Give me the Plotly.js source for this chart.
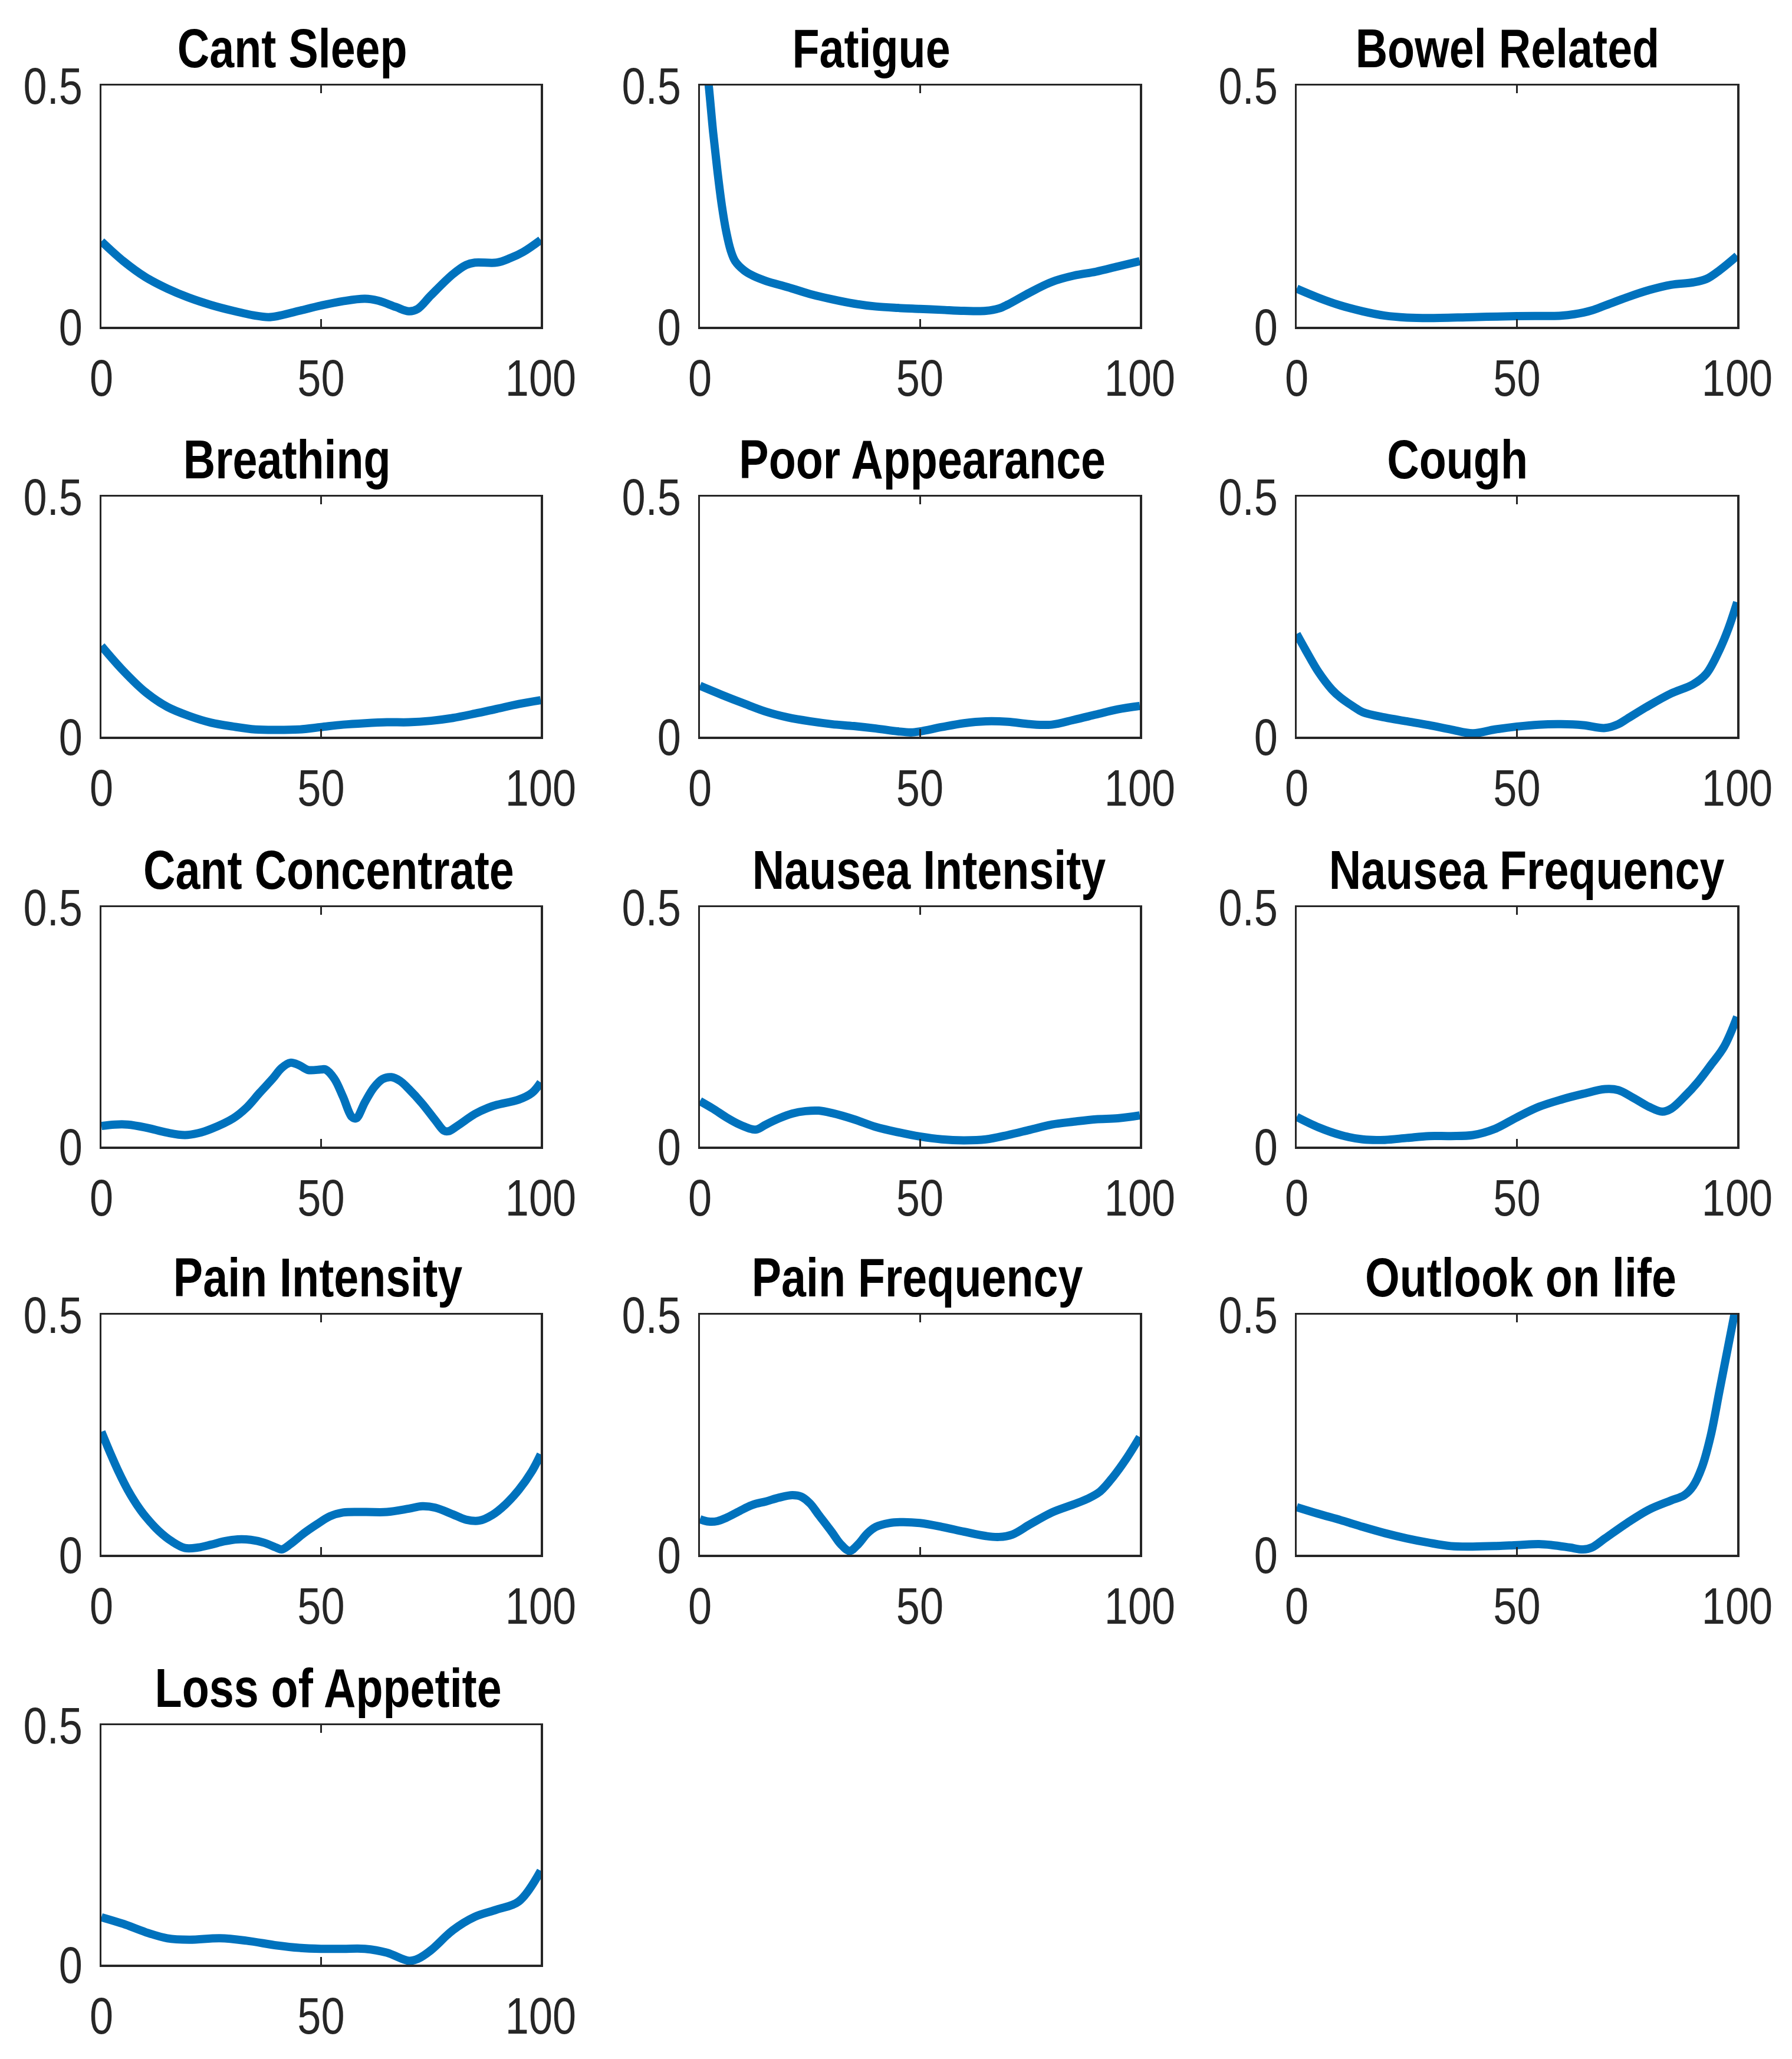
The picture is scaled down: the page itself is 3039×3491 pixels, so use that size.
<!DOCTYPE html>
<html>
<head>
<meta charset="utf-8">
<script src="https://cdn.plot.ly/plotly-3.0.1.min.js"></script>
<style>
html, body { margin: 0; padding: 0; background: #ffffff; }
#chart { width: 3039px; height: 3491px; }
</style>
</head>
<body>
<div id="chart"></div>
<script>
// ---- Data ----
const titles = ["Cant Sleep", "Fatigue", "Bowel Related", "Breathing", "Poor Appearance", "Cough",
  "Cant Concentrate", "Nausea Intensity", "Nausea Frequency", "Pain Intensity", "Pain Frequency",
  "Outlook on life", "Loss of Appetite"];

const xTicks = [0, 50, 100];
const xTickLabels = ["0", "50", "100"];
const yTicks = [0, 0.5];
const yTickLabels = ["0", "0.5"];

const cantSleepX = [0, 5, 10, 15, 20, 25, 30, 35, 38, 40, 45, 50, 55, 60, 63, 67, 70, 72, 75, 80, 83, 85, 90, 93, 96, 100];
const cantSleepY = [0.177, 0.136, 0.103, 0.079, 0.060, 0.045, 0.033, 0.023, 0.020, 0.022, 0.033, 0.044, 0.053, 0.058, 0.054, 0.041, 0.032, 0.037, 0.065, 0.109, 0.128, 0.133, 0.133, 0.142, 0.155, 0.180];

const fatigueX = [0, 1, 2, 3, 4, 5, 6, 7, 8, 10, 12, 15, 20, 25, 30, 35, 40, 45, 50, 55, 60, 65, 68, 70, 75, 80, 85, 90, 95, 100];
const fatigueY = [0.68, 0.58, 0.50, 0.403, 0.321, 0.250, 0.196, 0.158, 0.136, 0.117, 0.106, 0.095, 0.082, 0.068, 0.057, 0.048, 0.042, 0.039, 0.037, 0.035, 0.033, 0.033, 0.038, 0.046, 0.071, 0.093, 0.106, 0.114, 0.125, 0.136];

const bowelX = [0, 5, 10, 15, 20, 25, 30, 40, 50, 60, 63, 67, 70, 75, 80, 85, 90, 93, 96, 100];
const bowelY = [0.079, 0.060, 0.044, 0.032, 0.023, 0.019, 0.018, 0.020, 0.022, 0.023, 0.026, 0.034, 0.044, 0.061, 0.076, 0.087, 0.092, 0.099, 0.117, 0.147];

const breathingX = [0, 5, 10, 15, 20, 25, 30, 35, 40, 45, 50, 55, 60, 65, 70, 75, 80, 85, 90, 95, 100];
const breathingY = [0.189, 0.137, 0.093, 0.062, 0.043, 0.029, 0.021, 0.015, 0.014, 0.015, 0.020, 0.025, 0.028, 0.030, 0.030, 0.033, 0.039, 0.048, 0.058, 0.068, 0.076];

const appearanceX = [0, 5, 10, 15, 20, 25, 30, 35, 40, 45, 48, 50, 55, 60, 65, 70, 75, 80, 85, 90, 95, 100];
const appearanceY = [0.106, 0.087, 0.069, 0.052, 0.040, 0.032, 0.026, 0.022, 0.017, 0.011, 0.009, 0.011, 0.020, 0.028, 0.032, 0.031, 0.026, 0.025, 0.035, 0.046, 0.057, 0.064];

const coughX = [0, 2, 5, 8, 10, 13, 15, 20, 25, 30, 35, 40, 45, 50, 55, 60, 65, 70, 73, 75, 80, 85, 90, 93, 96, 98, 100];
const coughY = [0.214, 0.181, 0.134, 0.098, 0.081, 0.062, 0.051, 0.040, 0.032, 0.024, 0.015, 0.007, 0.015, 0.021, 0.025, 0.026, 0.024, 0.018, 0.026, 0.037, 0.065, 0.090, 0.109, 0.131, 0.181, 0.225, 0.280];

const concentrateX = [0, 3, 6, 10, 15, 19, 22, 25, 30, 33, 36, 39, 41, 43, 45, 47, 50, 51, 53, 55, 57, 58, 60, 62, 64, 66, 68, 70, 73, 76, 78, 79, 81, 85, 88, 90, 95, 98, 100];
const concentrateY = [0.043, 0.046, 0.046, 0.040, 0.029, 0.024, 0.028, 0.037, 0.059, 0.081, 0.112, 0.142, 0.164, 0.175, 0.170, 0.160, 0.161, 0.161, 0.142, 0.104, 0.062, 0.059, 0.093, 0.123, 0.141, 0.145, 0.137, 0.120, 0.090, 0.055, 0.033, 0.032, 0.043, 0.068, 0.081, 0.087, 0.098, 0.112, 0.134];

const nauseaIntX = [0, 3, 6, 9, 12, 13, 15, 18, 21, 24, 27, 30, 35, 40, 45, 50, 55, 60, 65, 70, 75, 80, 85, 90, 95, 100];
const nauseaIntY = [0.095, 0.079, 0.061, 0.046, 0.036, 0.036, 0.046, 0.059, 0.069, 0.074, 0.075, 0.070, 0.057, 0.041, 0.030, 0.021, 0.015, 0.013, 0.015, 0.024, 0.035, 0.046, 0.052, 0.057, 0.059, 0.065];

const nauseaFreqX = [0, 5, 10, 15, 20, 25, 30, 35, 40, 45, 50, 55, 60, 65, 70, 73, 76, 80, 83, 85, 88, 91, 94, 97, 100];
const nauseaFreqY = [0.062, 0.040, 0.024, 0.015, 0.014, 0.018, 0.022, 0.022, 0.024, 0.037, 0.061, 0.083, 0.098, 0.110, 0.120, 0.118, 0.104, 0.083, 0.073, 0.079, 0.104, 0.134, 0.170, 0.208, 0.271];

const painIntX = [0, 2, 4, 6, 8, 10, 13, 16, 19, 22, 25, 28, 31, 34, 37, 40, 41, 43, 46, 49, 52, 55, 60, 65, 70, 73, 76, 80, 83, 86, 89, 92, 95, 98, 100];
const painIntY = [0.256, 0.212, 0.171, 0.135, 0.105, 0.080, 0.050, 0.028, 0.014, 0.015, 0.021, 0.028, 0.032, 0.031, 0.025, 0.014, 0.011, 0.022, 0.044, 0.063, 0.080, 0.088, 0.089, 0.089, 0.096, 0.101, 0.098, 0.084, 0.073, 0.071, 0.083, 0.105, 0.135, 0.174, 0.209];

const painFreqX = [0, 2, 4, 6, 9, 12, 15, 18, 21, 23, 25, 27, 30, 32, 34, 36, 38, 40, 43, 46, 50, 55, 60, 65, 68, 71, 75, 80, 85, 88, 91, 94, 97, 100];
const painFreqY = [0.074, 0.069, 0.070, 0.077, 0.091, 0.104, 0.111, 0.119, 0.124, 0.121, 0.107, 0.083, 0.047, 0.022, 0.008, 0.022, 0.044, 0.058, 0.066, 0.068, 0.066, 0.058, 0.048, 0.039, 0.037, 0.042, 0.063, 0.088, 0.105, 0.116, 0.132, 0.163, 0.201, 0.245];

const outlookX = [0, 5, 10, 15, 20, 25, 30, 35, 40, 45, 50, 55, 58, 62, 65, 67, 70, 75, 80, 85, 88, 90, 92, 94, 96, 98, 100];
const outlookY = [0.099, 0.085, 0.072, 0.058, 0.045, 0.034, 0.025, 0.018, 0.017, 0.018, 0.020, 0.022, 0.020, 0.015, 0.011, 0.015, 0.034, 0.066, 0.094, 0.113, 0.124, 0.143, 0.182, 0.248, 0.342, 0.436, 0.53];

const appetiteX = [0, 5, 10, 15, 20, 27, 33, 40, 45, 50, 55, 60, 65, 70, 72, 75, 80, 85, 90, 95, 100];
const appetiteY = [0.099, 0.085, 0.068, 0.055, 0.052, 0.055, 0.050, 0.040, 0.035, 0.033, 0.033, 0.033, 0.025, 0.008, 0.012, 0.030, 0.072, 0.100, 0.115, 0.132, 0.196];

const seriesX = [cantSleepX, fatigueX, bowelX, breathingX, appearanceX, coughX, concentrateX, nauseaIntX, nauseaFreqX, painIntX, painFreqX, outlookX, appetiteX];
const seriesY = [cantSleepY, fatigueY, bowelY, breathingY, appearanceY, coughY, concentrateY, nauseaIntY, nauseaFreqY, painIntY, painFreqY, outlookY, appetiteY];

// ---- Layout geometry ----
const W = 3039, H = 3491;
const colPx = [[172, 917], [1187, 1933], [2199, 2946]];
const rowPx = [[145, 554], [842, 1249], [1538, 1944], [2229, 2636], [2925, 3331]];
const titleCenterPx = [495, 1477, 2556, 486, 1564, 2471, 557, 1575, 2589, 539, 1555, 2579, 556];
const condense = 0.82; // reference text is a narrow (condensed) sans face

const tickFont = { family: "Liberation Sans, Arial, Helvetica, sans-serif", size: 88, color: "#262626" };
const titleFont = { family: "Liberation Sans, Arial, Helvetica, sans-serif", size: 92, color: "#000000", weight: "bold" };

const traces = [];
const layout = {
  width: W, height: H,
  margin: { l: 0, r: 0, t: 0, b: 0 },
  paper_bgcolor: "#ffffff", plot_bgcolor: "#ffffff",
  showlegend: false,
  annotations: []
};

for (let i = 0; i < titles.length; i++) {
  const r = Math.floor(i / 3), c = i % 3;
  const n = i === 0 ? "" : String(i + 1);
  traces.push({
    type: "scatter", mode: "lines",
    x: seriesX[i], y: seriesY[i],
    xaxis: "x" + n, yaxis: "y" + n,
    line: { color: "#0072BD", width: 14, shape: "spline", smoothing: 1 },
    hoverinfo: "skip"
  });
  const xd = [colPx[c][0] / W, colPx[c][1] / W];
  const yd = [1 - rowPx[r][1] / H, 1 - rowPx[r][0] / H];
  const common = {
    showgrid: false, zeroline: false,
    showline: true, linecolor: "#262626", linewidth: 3.5,
    mirror: "ticks", ticks: "inside", ticklen: 13, tickwidth: 3, tickcolor: "#262626",
    tickfont: tickFont, fixedrange: true
  };
  layout["xaxis" + n] = Object.assign({}, common, {
    domain: xd, anchor: "y" + n, range: [0, 100],
    tickmode: "array", tickvals: xTicks, ticktext: xTickLabels,
    ticklabelstandoff: 8
  });
  layout["yaxis" + n] = Object.assign({}, common, {
    domain: yd, anchor: "x" + n, range: [0, 0.5],
    tickmode: "array", tickvals: yTicks, ticktext: yTickLabels,
    ticklabelstandoff: 11
  });
  layout.annotations.push({
    xref: "paper", yref: "paper",
    x: titleCenterPx[i] / W, y: yd[1],
    xanchor: "center", yanchor: "bottom", yshift: 10,
    text: "<b>" + titles[i] + "</b>", showarrow: false,
    font: titleFont
  });
}

function condenseText() {
  document.querySelectorAll("#chart svg text").forEach(function (t) {
    if (t.getAttribute("data-condensed")) return;
    const x = parseFloat(t.getAttribute("x") || "0");
    const y = parseFloat(t.getAttribute("y") || "0");
    const tr = t.getAttribute("transform") || "";
    t.setAttribute("transform", tr + " translate(" + x + "," + y + ") scale(" + condense + ",1) translate(" + (-x) + "," + (-y) + ")");
    t.setAttribute("data-condensed", "1");
  });
}

Plotly.newPlot("chart", traces, layout, { staticPlot: true, displayModeBar: false }).then(condenseText);
</script>
</body>
</html>
